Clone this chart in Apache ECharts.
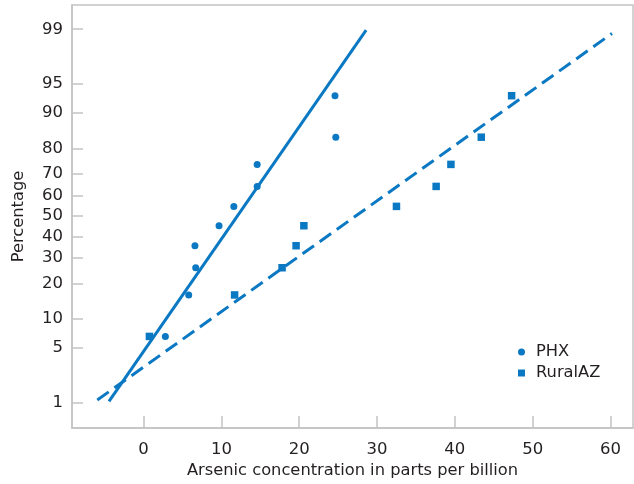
<!DOCTYPE html>
<html><head><meta charset="utf-8">
<script src="https://cdn.jsdelivr.net/npm/echarts@6/dist/echarts.min.js"></script>
<style>html,body{margin:0;padding:0;background:#fff}#c{width:634px;height:484px}</style>
</head><body><div id="c"></div>
<script>
// ---- data ----
const percentTicks = [1, 5, 10, 20, 30, 40, 50, 60, 70, 80, 90, 95, 99];
const xTicks = [0, 10, 20, 30, 40, 50, 60];
const plotPercent = [6.7, 16.3, 26.0, 35.6, 45.2, 54.8, 64.4, 74.0, 83.7, 93.3];
const phxX = [2.8, 5.8, 6.7, 6.6, 9.7, 11.6, 14.6, 14.6, 24.7, 24.6];
const ruralX = [0.75, 11.7, 17.8, 19.6, 20.6, 32.5, 37.6, 39.5, 43.4, 47.3];
const phxFitX = [-4.45, 28.6];
const phxFitPct = [1.05, 98.97];
const ruralFitX = [-5.95, 60.2];
const ruralFitPct = [1.1, 98.85];

// inverse normal CDF (probability-scale transform)
function probit(p) {
  const a=[-3.969683028665376e+01,2.209460984245205e+02,-2.759285104469687e+02,1.383577518672690e+02,-3.066479806614716e+01,2.506628277459239e+00];
  const b=[-5.447609879822406e+01,1.615858368580409e+02,-1.556989798598866e+02,6.680131188771972e+01,-1.328068155288572e+01];
  const c=[-7.784894002430293e-03,-3.223964580411365e-01,-2.400758277161838e+00,-2.549732539343734e+00,4.374664141464968e+00,2.938163982698783e+00];
  const d=[7.784695709041462e-03,3.224671290700398e-01,2.445134137142996e+00,3.754408661907416e+00];
  const pl=0.02425, ph=1-pl; let q,r;
  if (p<pl){q=Math.sqrt(-2*Math.log(p));return (((((c[0]*q+c[1])*q+c[2])*q+c[3])*q+c[4])*q+c[5])/((((d[0]*q+d[1])*q+d[2])*q+d[3])*q+1);}
  if (p<=ph){q=p-0.5;r=q*q;return (((((a[0]*r+a[1])*r+a[2])*r+a[3])*r+a[4])*r+a[5])*q/(((((b[0]*r+b[1])*r+b[2])*r+b[3])*r+b[4])*r+1);}
  q=Math.sqrt(-2*Math.log(1-p));return -(((((c[0]*q+c[1])*q+c[2])*q+c[3])*q+c[4])*q+c[5])/((((d[0]*q+d[1])*q+d[2])*q+d[3])*q+1);
}
const z = pct => probit(pct / 100);
const tickZ = percentTicks.map(z);

const COLOR = '#0a78c2';
const TXT = '#231f20';
const FONT = 'DejaVu Sans';
const FS = 16.3;
const AXC = '#c3c3c3';

const chart = echarts.init(document.getElementById('c'), null, {renderer: 'canvas'});
chart.setOption({
  animation: false,
  textStyle: {fontFamily: FONT},
  grid: {left: 72, right: 1, top: 5, bottom: 55, show: true, borderColor: AXC, borderWidth: 1.5, backgroundColor: 'transparent'},
  legend: {
    data: [{name: 'PHX', icon: 'circle'}, {name: 'RuralAZ', icon: 'rect'}],
    orient: 'vertical', left: 513, top: 339, itemWidth: 7, itemHeight: 7, itemGap: 5,
    textStyle: {fontSize: FS, color: TXT, fontFamily: FONT, padding: [0, 0, 0, 6]}
  },
  xAxis: {
    type: 'value', min: -9.2, max: 62.9,
    name: 'Arsenic concentration in parts per billion', nameLocation: 'middle', nameGap: 32,
    nameTextStyle: {fontSize: FS, color: TXT, fontFamily: FONT},
    axisLine: {show: true, onZero: false, lineStyle: {color: AXC, width: 1.5}},
    axisTick: {show: true, inside: true, length: 12, lineStyle: {color: AXC, width: 1.5}, customValues: xTicks},
    axisLabel: {fontSize: 16.5, color: TXT, margin: 13, customValues: xTicks, fontFamily: FONT},
    splitLine: {show: false}
  },
  yAxis: {
    type: 'value', min: -2.64, max: 2.628,
    name: 'Percentage', nameLocation: 'middle', nameGap: 45,
    nameTextStyle: {fontSize: FS, color: TXT, fontFamily: FONT},
    axisLine: {show: true, onZero: false, lineStyle: {color: AXC, width: 1.5}},
    axisTick: {show: true, inside: true, length: 11, lineStyle: {color: AXC, width: 1.5}, customValues: tickZ},
    axisLabel: {
      fontSize: 16.5, color: TXT, margin: 9, customValues: tickZ, fontFamily: FONT,
      formatter: v => {
        let best = 0, bd = Infinity;
        tickZ.forEach((t, i) => { const dd = Math.abs(t - v); if (dd < bd) { bd = dd; best = i; } });
        return String(percentTicks[best]);
      }
    },
    splitLine: {show: false}
  },
  series: [
    {name: 'PHX fit', type: 'line', data: phxFitX.map((x, i) => [x, z(phxFitPct[i])]), showSymbol: false, symbol: 'none',
     lineStyle: {color: COLOR, width: 3}, z: 2, silent: true},
    {name: 'RuralAZ fit', type: 'line', data: ruralFitX.map((x, i) => [x, z(ruralFitPct[i])]), showSymbol: false, symbol: 'none',
     lineStyle: {color: COLOR, width: 3, type: [14, 7]}, z: 2, silent: true},
    {name: 'PHX', type: 'scatter', symbol: 'circle', symbolSize: 7, itemStyle: {color: COLOR, opacity: 1},
     data: phxX.map((x, i) => [x, z(plotPercent[i])]), z: 3},
    {name: 'RuralAZ', type: 'scatter', symbol: 'rect', symbolSize: 7.5, itemStyle: {color: COLOR, opacity: 1},
     data: ruralX.map((x, i) => [x, z(plotPercent[i])]), z: 3}
  ]
});
</script>
</body></html>
